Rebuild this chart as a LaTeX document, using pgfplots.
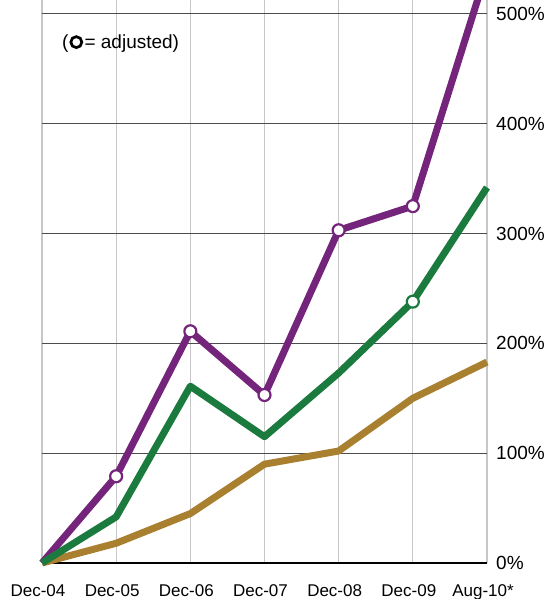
\documentclass[border=0pt]{standalone}
\usepackage{fontspec}
\setmainfont{Liberation Sans}
\usepackage{pgfplots}
\pgfplotsset{compat=1.18}
\definecolor{cpurple}{HTML}{74247A}
\definecolor{cgreen}{HTML}{1B7B3E}
\definecolor{cgold}{HTML}{A98030}
\begin{document}
\begin{tikzpicture}
\begin{axis}[
 scale only axis, width=445pt, height=563pt,
 xmin=0, xmax=6, ymin=0, ymax=512.7,
 xtick={0,1,2,3,4,5,6},
 xticklabels={Dec-04,Dec-05,Dec-06,Dec-07,Dec-08,Dec-09,Aug-10*},
 ytick={0,100,200,300,400,500},
 yticklabel={\pgfmathprintnumber{\tick}\%},
 yticklabel pos=right,
 grid=major,
 x grid style={black!22, line width=1.2pt},
 y grid style={black!70, line width=1pt},
 axis line style={draw=none},
 major tick length=0pt,
 clip=false,
 /pgf/number format/assume math mode=true,
 yticklabel style={font=\fontsize{19}{19}\selectfont, anchor=west, inner sep=0pt, xshift=9pt},
 xticklabel style={font=\fontsize{17}{17}\selectfont, anchor=north, inner sep=0pt, yshift=-21pt, xshift=-4pt},
 line join=round,
]
\draw[black, line width=2.5pt] (axis cs:0,0) -- (axis cs:6,0);
\addplot[cgold, line width=7pt, mark=none] coordinates {(0,0)(1,18)(2,45)(3,90)(4,102)(5,150)(6,183)};
\addplot[cpurple, line width=7pt, mark=none] coordinates {(0,0)(1,79)(2,211)(3,153)(4,303)(5,325)(6,540)};
\addplot[cgreen, line width=7pt, mark=none] coordinates {(0,0)(1,42)(2,161)(3,115)(4,173)(5,238)(6,342)};
\addplot[only marks, mark=*, mark size=6pt, mark options={fill=white, draw=cpurple, line width=2.2pt}] coordinates {(1,79)(2,211)(3,153)(4,303)(5,325)};
\addplot[only marks, mark=*, mark size=6pt, mark options={fill=white, draw=cgreen, line width=2.2pt}] coordinates {(5,238)};
\coordinate (leg) at (axis cs:0.27,468.6);
\end{axis}
\node[anchor=base west, inner sep=0pt, font=\fontsize{19}{19}\selectfont] (L) at (leg) {(\hspace{16pt}= adjusted)};
\draw[black, line width=2.7pt] ([xshift=14.3pt,yshift=6.3pt]L.base west) circle (5.5pt);
\pgfresetboundingbox
\path ([xshift=-42pt,yshift=-36pt]current axis.south west) rectangle ([xshift=65pt]current axis.north east);
\end{tikzpicture}
\end{document}
